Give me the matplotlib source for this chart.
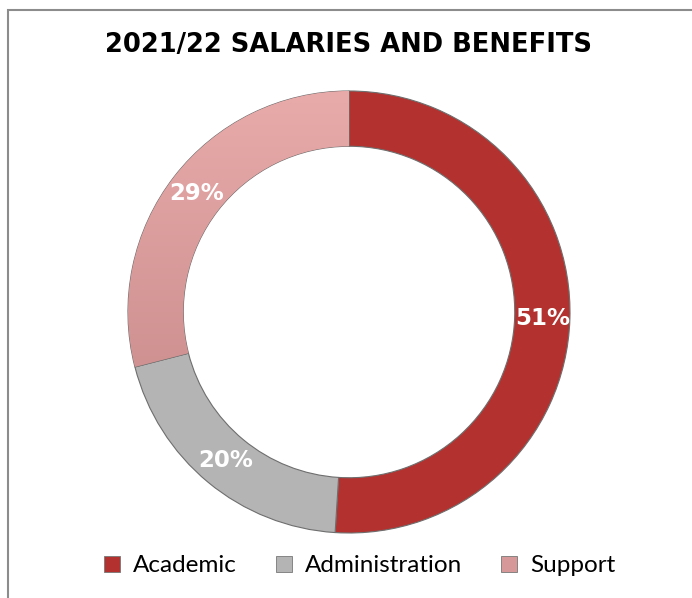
import matplotlib
matplotlib.use("Agg")
import numpy as np
import matplotlib.pyplot as plt
from matplotlib.patches import Rectangle, Patch

# Data
labels = ["Academic", "Administration", "Support"]
shares = [51, 20, 29]
colors = ["#B3322F", "#B4B4B4", "#D69898"]
title = "2021/22 SALARIES AND BENEFITS"

fig = plt.figure(figsize=(6.92, 5.98), dpi=100)

# light frame like the original chart box
fig.patches.append(Rectangle((8 / 692, -0.05), 1.0, 1 - 10 / 598 + 0.05,
                             transform=fig.transFigure, fill=False,
                             edgecolor="#8c8c8c", linewidth=1.5))

ax = fig.add_axes([128 / 692, 65 / 598, 442 / 692, 442 / 598])
wedges, _ = ax.pie(shares, colors=colors, startangle=90, counterclock=False,
                   radius=1.0,
                   wedgeprops=dict(width=0.25, edgecolor="#6e6e6e", linewidth=0.8))
ax.set_xlim(-1, 1)
ax.set_ylim(-1, 1)
ax.set_aspect("auto")
ax.axis("off")

# vertical gradient on the Support slice (lighter at top)
grad = np.linspace(0, 1, 256).reshape(-1, 1)
cmap = matplotlib.colors.LinearSegmentedColormap.from_list("sup", ["#C08282", "#E9AAAA"])
img = ax.imshow(grad, cmap=cmap, extent=[-1, 1, -1, 1], origin="lower",
                aspect="auto", zorder=wedges[2].get_zorder() + 0.1)
img.set_clip_path(wedges[2])
ax.set_xlim(-1, 1)
ax.set_ylim(-1, 1)

# percentage labels in the middle of the ring
for w, v in zip(wedges, shares):
    mid = np.deg2rad((w.theta1 + w.theta2) / 2)
    r = 0.875
    ax.text(r * np.cos(mid), r * np.sin(mid), f"{v}%", color="white",
            fontsize=16.5, fontweight="bold", ha="center", va="center",
            family="DejaVu Sans", zorder=5)

fig.text(0.503, 1 - 45 / 598, title, ha="center", va="center",
         fontsize=18.5, fontweight="bold", family="DejaVu Sans")

handles = [Patch(facecolor=c, edgecolor="#777777", linewidth=0.6) for c in colors]
fig.legend(handles, labels, loc="center", bbox_to_anchor=(0.52, 1 - 566 / 598),
           ncol=3, frameon=False, handlelength=0.66, handleheight=0.66,
           columnspacing=1.6, handletextpad=0.53,
           prop={"family": "Lato", "size": 17.5})

fig.savefig("out.png", dpi=100)
